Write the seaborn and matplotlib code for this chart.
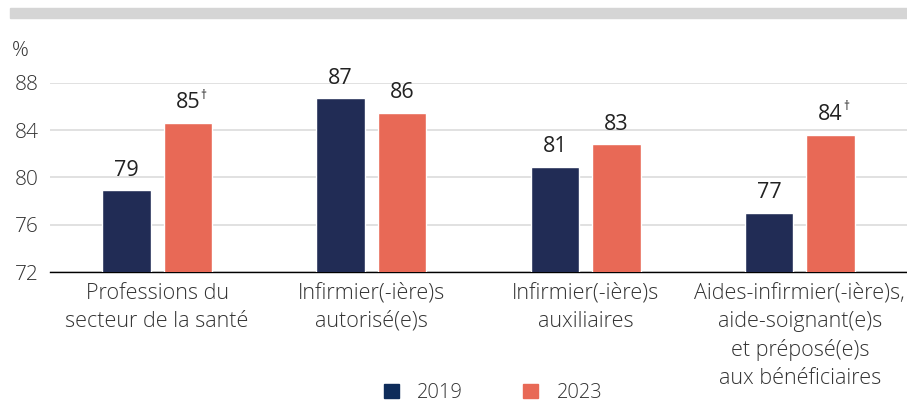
import pandas as pd
import numpy as np
import matplotlib.pyplot as plt
import seaborn as sns
from matplotlib.patches import Rectangle, Patch

# Data
categories = ["Professions du\nsecteur de la santé",
              "Infirmier(-ière)s\nautorisé(e)s",
              "Infirmier(-ière)s\nauxiliaires",
              "Aides-infirmier(-ière)s,\naide-soignant(e)s\net préposé(e)s\naux bénéficiaires"]
years = ["2019", "2023"]
values_2019 = [78.9, 86.7, 80.9, 77.0]
values_2023 = [84.6, 85.5, 82.8, 83.6]
labels_2019 = ["79", "87", "81", "77"]
labels_2023 = ["85", "86", "83", "84"]
dagger_2023 = [True, False, False, True]
yticks = [72, 76, 80, 84, 88]

df = pd.DataFrame({
    "categorie": categories * 2,
    "annee": [years[0]] * 4 + [years[1]] * 4,
    "valeur": values_2019 + values_2023,
})

sns.set_theme(style="white")
plt.rcParams['font.family'] = ['Open Sans', 'DejaVu Sans']
text_col = "#222222"

fig = plt.figure(figsize=(9.07, 4.04), dpi=100)
ax = fig.add_axes([50 / 907, 1 - 272 / 404, 1 - 50 / 907, (272 - 83) / 404])

# grey banner at the top
fig.patches.append(Rectangle((10 / 907, 1 - 18 / 404), 1, 10 / 404,
                             transform=fig.transFigure, color="#d5d5d5", zorder=0))

palette = {"2019": "#212c55", "2023": "#e86956"}
sns.barplot(data=df, x="categorie", y="valeur", hue="annee", palette=palette,
            width=0.573, gap=0.21, ax=ax, legend=False, saturation=1, zorder=3)

ax.set_ylim(72, 88)
ax.set_xlim(-0.5, 3.5)
ax.set_yticks(yticks)
ax.set_yticklabels([str(t) for t in yticks], fontsize=15, color="#333333", fontweight="light")
ax.yaxis.grid(True, color="#dcdcdc", linewidth=1.2, zorder=0)
ax.set_axisbelow(True)
for s in ["top", "right", "left"]:
    ax.spines[s].set_visible(False)
ax.spines["bottom"].set_color("black")
ax.spines["bottom"].set_linewidth(1)
ax.tick_params(axis="y", length=0, pad=8)
ax.tick_params(axis="x", which="major", length=0, pad=8)
ax.set_xticks(np.arange(-0.5, 4, 1), minor=True)
ax.tick_params(axis="x", which="minor", length=8, width=1, color="black", direction="out")
ax.set_xticklabels(categories, fontsize=15.5, color="#333333", linespacing=1.42,
                   fontweight="light")
ax.set_xlabel("")
ax.set_ylabel("")
ax.text(-0.045, 1.17, "%", transform=ax.transAxes, fontsize=15, color="#333333",
        ha="left", va="center", fontweight="light")

# value labels
bars = ax.patches
for i, bar in enumerate(bars[:4]):
    ax.annotate(labels_2019[i], (bar.get_x() + bar.get_width() / 2, bar.get_height()),
                xytext=(0, 7), textcoords="offset points", ha="center", va="bottom",
                fontsize=15.5, color=text_col, annotation_clip=False)
for i, bar in enumerate(bars[4:8]):
    xc = bar.get_x() + bar.get_width() / 2
    ax.annotate(labels_2023[i], (xc, bar.get_height()),
                xytext=(0, 7), textcoords="offset points", ha="center", va="bottom",
                fontsize=15.5, color=text_col, annotation_clip=False)
    if dagger_2023[i]:
        ax.annotate("†", (xc, bar.get_height()),
                    xytext=(9, 15.5), textcoords="offset points", ha="left", va="bottom",
                    fontsize=8.5, color=text_col, annotation_clip=False)

handles = [Patch(color="#0e2c5a"), Patch(color="#e86956")]
fig.legend(handles, years, loc="center", bbox_to_anchor=(493 / 907, 1 - 393 / 404),
           ncol=2, frameon=False, handlelength=0.75, handleheight=0.75,
           handletextpad=0.9, columnspacing=3.0, labelcolor="#333333",
           prop={"weight": "light", "size": 14.5})

fig.savefig("out.png", dpi=100)
